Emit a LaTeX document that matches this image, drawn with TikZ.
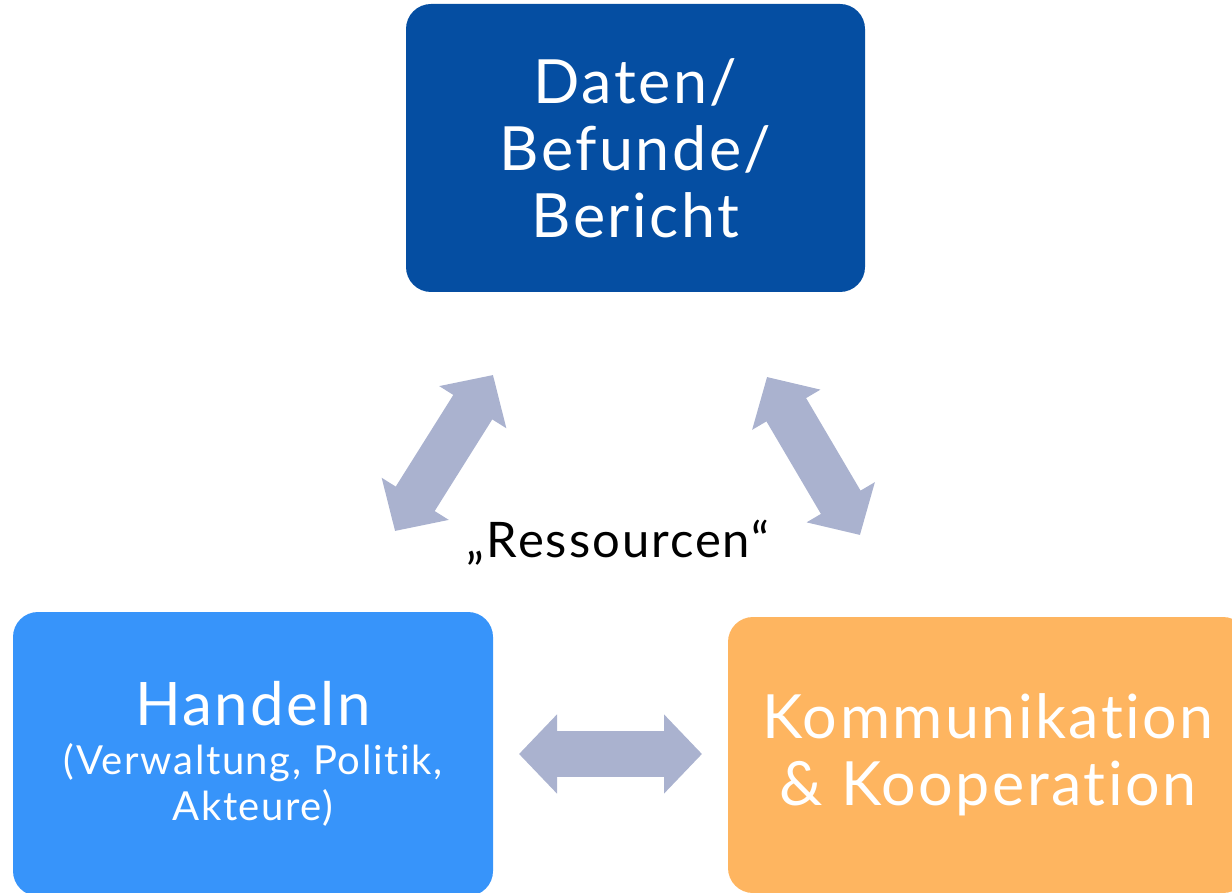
\documentclass[tikz,border=0pt]{standalone}
\usepackage{fontspec}
\setmainfont{Lato}[Ligatures=NoCommon, LetterSpace=4]
\usepackage{tikz}
\usetikzlibrary{positioning}
\usetikzlibrary{arrows.meta}
\definecolor{datenblau}{RGB}{5,78,162}
\definecolor{handelnblau}{RGB}{55,148,250}
\definecolor{kommorange}{RGB}{254,181,96}
\definecolor{pfeilgrau}{RGB}{170,178,207}

\begin{document}
\begin{tikzpicture}[x=1pt, y=-1pt,
  kasten/.style={rectangle, rounded corners=25pt, inner sep=0pt, text=white, align=center, font=\fontsize{61}{67}\selectfont},
  pfeil/.style={pfeilgrau, line width=46pt, {Triangle[length=38pt,width=77pt]}-{Triangle[length=38pt,width=77pt]}}]

\useasboundingbox (0,0) rectangle (1232,893);
\begin{scope}
\clip (0,0) rectangle (1232,893);

% die drei Kaesten
\node[kasten, fill=datenblau, minimum width=459pt, minimum height=288pt] (daten) at (635.5,148) {Daten/\\Befunde/\\Bericht};
\node[kasten, fill=handelnblau, minimum width=480pt, minimum height=284pt, font=\fontsize{40}{46}\selectfont] (handeln) at (253,754)
  {{\fontsize{60}{67}\selectfont Handeln}\\[3pt](Verwaltung, Politik,\\Akteure)};
\node[kasten, fill=kommorange, minimum width=520pt, minimum height=276pt] (komm) at (988,755) {Kommunikation\\\& Kooperation};

% Pfeile
\coordinate (links1) at (395,531);
\coordinate (links2) at (493,375);
\coordinate (rechts1) at (767,377);
\coordinate (rechts2) at (860,535);
\coordinate (unten1) at (519,754);
\coordinate (unten2) at (702,754);

\draw[pfeil] (links1) -- (links2);
\draw[pfeil] (rechts1) -- (rechts2);
\draw[pfeil] (unten1) -- (unten2);

\node[anchor=base, inner sep=0pt, font=\fontsize{49}{50}\selectfont] (ressourcen) at (618,557) {„\kern2pt Ressourcen\kern1pt“};

\end{scope}
\end{tikzpicture}
\end{document}
